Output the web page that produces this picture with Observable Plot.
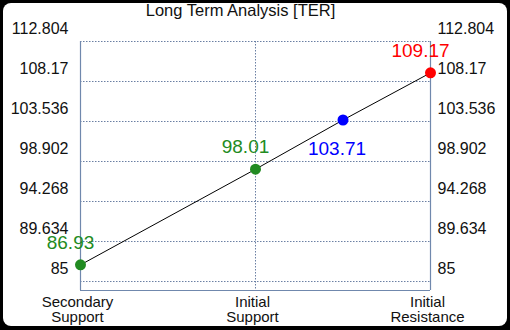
<!DOCTYPE html>
<html><head><meta charset="utf-8">
<script src="https://cdn.jsdelivr.net/npm/d3@7"></script>
<script src="https://cdn.jsdelivr.net/npm/@observablehq/plot@0.6"></script>
<style>body{margin:0;background:#000;}</style>
</head><body><div id="chart"></div>
<script>
const title = "Long Term Analysis [TER]";
const categoryLabels = ["Secondary\nSupport", "Initial\nSupport", "Initial\nResistance"];
const categoryIndex = [0, 1, 2];
const pointPositions = [0, 1, 1.5, 2];
const pointValues = [86.93, 98.01, 103.71, 109.17];
const pointKinds = ["support", "support", "mid", "resistance"];
const yTicks = [85, 89.634, 94.268, 98.902, 103.536, 108.17, 112.804];

const points = pointValues.map((v, i) => ({x: pointPositions[i], y: v, kind: pointKinds[i], label: v.toFixed(2)}));
const yDomain = [83.96, 112.804];
const axisColor = "#7088ad";
const gridColor = "#6a7fa3";
const font = "Liberation Sans, Arial, sans-serif";

const plot = Plot.plot({
  width: 510, height: 330,
  marginLeft: 80, marginRight: 80, marginTop: 41, marginBottom: 40,
  style: {background: "black", fontFamily: font, color: "#111"},
  x: {type: "linear", domain: [0, 2], axis: null},
  y: {type: "linear", domain: yDomain, axis: null},
  color: {domain: ["support", "mid", "resistance"], range: ["#228B22", "#0000FF", "#FF0000"]},
  marks: [
    Plot.gridY(yTicks, {stroke: gridColor, strokeOpacity: 1, strokeDasharray: "1.5,1.5"}),
    Plot.gridX(categoryIndex, {stroke: gridColor, strokeOpacity: 1, strokeDasharray: "1.5,1.5"}),
    Plot.ruleX([0, 2], {stroke: axisColor, strokeWidth: 1.2}),
    Plot.ruleY([yDomain[0]], {stroke: axisColor, strokeWidth: 1.2}),
    Plot.axisY(yTicks, {anchor: "left", tickSize: 0, tickPadding: 12, fontSize: 16, dy: -13, label: null, tickFormat: d => String(d), fill: "#111"}),
    Plot.axisY(yTicks, {anchor: "right", tickSize: 0, tickPadding: 7, fontSize: 16, dy: -13, label: null, tickFormat: d => String(d), fill: "#111"}),
    Plot.axisX(categoryIndex, {anchor: "bottom", tickSize: 0, tickPadding: 6, fontSize: 15, lineHeight: 1.0, dx: -3, label: null, tickFormat: i => categoryLabels[i], fill: "#111"}),
    Plot.line(points, {x: "x", y: "y", stroke: "black", strokeWidth: 1}),
    Plot.dot(points, {x: "x", y: "y", fill: "kind", r: 5.5}),
    Plot.text(points.filter(d => d.kind !== "mid"), {x: "x", y: "y", text: "label", fill: "kind", fontSize: 19, dx: -10, dy: -22}),
    Plot.text(points.filter(d => d.kind === "mid"), {x: "x", y: "y", text: "label", fill: "kind", fontSize: 19, dx: -6, dy: 29}),
    Plot.text([title], {frameAnchor: "top", text: d => d, fontSize: 16.5, dx: -15, dy: -31, lineAnchor: "middle", fill: "#111"})
  ]
});

d3.select(plot).insert("rect", ":first-child")
  .attr("x", 3).attr("y", 3).attr("width", 504).attr("height", 323)
  .attr("rx", 8).attr("fill", "white");

document.getElementById("chart").appendChild(plot);
</script>
</body></html>
